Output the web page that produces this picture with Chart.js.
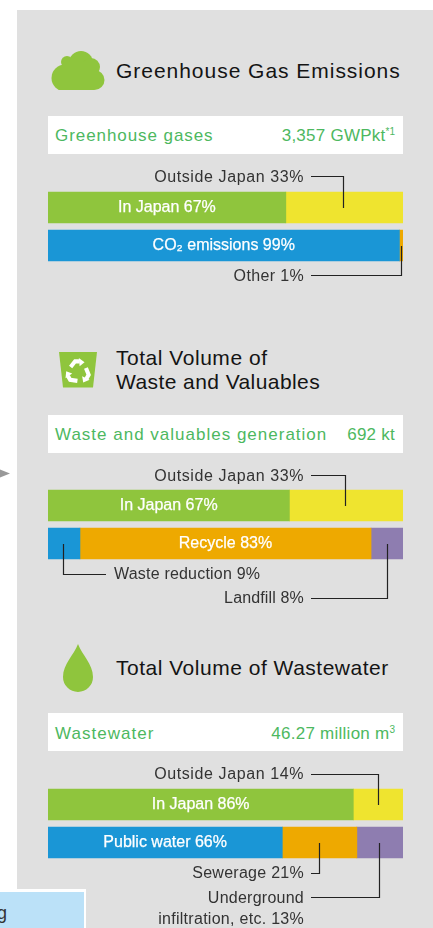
<!DOCTYPE html>
<html><head><meta charset="utf-8">
<script src="https://cdn.jsdelivr.net/npm/chart.js@4"></script>
<style>
html,body{margin:0;padding:0;background:#fff;overflow:hidden;width:433px;height:928px}
#page{position:relative;width:433px;height:928px;overflow:hidden;font-family:"Liberation Sans",Arial,sans-serif}
#panel{position:absolute;left:17px;top:10px;width:416px;height:918px;background:#e0e0e0}
.title{position:absolute;left:116px;font-size:21px;line-height:24px;color:#141414;white-space:nowrap}
.box{position:absolute;left:48px;width:355px;height:38px;background:#fff;color:#4db85f;font-size:17px;line-height:40px;box-sizing:border-box}
.box .l{position:absolute;left:7px}
.box .r{position:absolute;right:8px;letter-spacing:.25px}
.box sup{font-size:10px;line-height:0;vertical-align:baseline;position:relative;top:-6px;letter-spacing:0}
canvas{position:absolute;left:0}
.wrap{position:absolute;left:0;width:433px}
svg{position:absolute;left:0;top:0}
#note{position:absolute;left:0;top:889px;width:85.5px;height:39px;background:#bbe1f8;border-top:3px solid #fff;border-right:2.5px solid #fff;box-sizing:border-box;font-size:18px;color:#333}
#note span{position:absolute;left:-3px;top:11px}
</style></head>
<body><div id="page">
<div id="panel"></div>
<svg width="433" height="928">
 <path d="M0 469.5L10 473.5L0 477.5Z" fill="#999"/>
 <g fill="#8fc53d">
  <clipPath id="c"><rect x="40" y="40" width="80" height="50"/></clipPath>
  <g clip-path="url(#c)">
   <circle cx="65" cy="78" r="13.5"/><circle cx="67" cy="62" r="6"/><circle cx="81" cy="63" r="12"/>
   <circle cx="91" cy="67" r="9"/><circle cx="94.5" cy="80" r="10"/><rect x="62" y="62" width="32" height="28"/>
  </g>
  <path d="M59 352H97L93 387.5H63Z"/>
  <path d="M78 644C74 655 63 664 63 677A15 15 0 0 0 93 677C93 664 82 655 78 644Z"/>
 </g>
 <g transform="translate(78 372) scale(.82)" fill="none" stroke="#fff" stroke-width="5">
  <g><path d="M-9 -6L-3.5 -13L2 -13"/><path d="M1 -17L8 -12L2 -7Z" fill="#fff" stroke="none"/></g>
  <g transform="rotate(120)"><path d="M-9 -6L-3.5 -13L2 -13"/><path d="M1 -17L8 -12L2 -7Z" fill="#fff" stroke="none"/></g>
  <g transform="rotate(240)"><path d="M-9 -6L-3.5 -13L2 -13"/><path d="M1 -17L8 -12L2 -7Z" fill="#fff" stroke="none"/></g>
 </g>
</svg>
<div class="title" style="top:59px;letter-spacing:.97px">Greenhouse Gas Emissions</div>
<div class="title" style="top:346px;letter-spacing:.53px">Total Volume of</div>
<div class="title" style="top:370px;letter-spacing:.42px">Waste and Valuables</div>
<div class="title" style="top:656px;letter-spacing:.51px">Total Volume of Wastewater</div>
<div class="box" style="top:116px"><span class="l" style="letter-spacing:.93px">Greenhouse gases</span><span class="r">3,357 GWPkt<sup>*1</sup></span></div>
<div class="box" style="top:415px"><span class="l" style="letter-spacing:1px">Waste and valuables generation</span><span class="r">692 kt</span></div>
<div class="box" style="top:713px;line-height:41px"><span class="l" style="letter-spacing:1.04px">Wastewater</span><span class="r">46.27 million m<sup>3</sup></span></div>
<div class="wrap" style="top:160px;height:130px"><canvas id="c1"></canvas></div>
<div class="wrap" style="top:458px;height:154px"><canvas id="c2"></canvas></div>
<div class="wrap" style="top:755px;height:173px"><canvas id="c3"></canvas></div>
<div id="note"><span>g</span></div>
</div>
<script>
// ---- data: segment widths, printed labels as shown ----
const ghgCategories = ['Location', 'Gas type'];
const ghgLabels = ['In Japan 67%', 'Outside Japan 33%', 'CO₂ emissions 99%', 'Other 1%'];
const ghgRows   = [0, 0, 1, 1];
const ghgValues = [67, 33, 99, 1];

const wasteCategories = ['Location', 'Treatment'];
const wasteLabels = ['In Japan 67%', 'Outside Japan 33%', 'Waste reduction 9%', 'Recycle 83%', 'Landfill 8%'];
const wasteRows   = [0, 0, 1, 1, 1];
const wasteValues = [68, 32, 9, 82, 9];

const waterCategories = ['Location', 'Discharge'];
const waterLabels = ['In Japan 86%', 'Outside Japan 14%', 'Public water 66%', 'Sewerage 21%', 'infiltration, etc. 13%'];
const waterRows   = [0, 0, 1, 1, 1];
const waterValues = [86, 14, 66, 21, 13];

// ---- style ----
const GREEN='#8fc53d', YELLOW='#efe42f', BLUE='#1a96d6', ORANGE='#eea900', PURPLE='#8e7db0';
const ghgColors   = [GREEN, YELLOW, BLUE, ORANGE];
const wasteColors = [GREEN, YELLOW, BLUE, ORANGE, PURPLE];
const waterColors = [GREEN, YELLOW, BLUE, ORANGE, PURPLE];

// ---- annotations (layout only) ----
const ghgInside   = [0, 2];
const wasteInside = [0, 3];
const waterInside = [0, 2];
const ghgLeaders = [
 {seg:1, y:176, dx:-1, ls:.6, ty:1.5},
 {seg:3, y:275, ls:.35, ty:1.5}
];
const wasteLeaders = [
 {seg:1, y:475, dx:-1, ls:.6, ty:1.5},
 {seg:2, y:574, left:true, ls:.2, ty:.5},
 {seg:4, y:598, ls:.15, ty:1}
];
const waterLeaders = [
 {seg:1, y:774, ls:.6, ty:1},
 {seg:3, y:873, ls:.27, ty:1},
 {seg:4, y:897, ls:.28, ty:22.5, before:'Underground', bls:.25, bty:2}
];

const FONT='"Liberation Sans",Arial,sans-serif';
function makeChart(id, pageTop, areaTopPage, height, cats, labels, rows, values, colors, inside, leaders){
  const canvas=document.getElementById(id);
  const datasets=labels.map((n,i)=>({
    label:n,
    data:cats.map((c,r)=>r===rows[i]?values[i]:null),
    backgroundColor:colors[i],
    borderWidth:0,
    barThickness:31
  }));
  const areaTop=areaTopPage-pageTop;
  const notes={
    id:'notes',
    afterDatasetsDraw(chart){
      const ctx=chart.ctx;
      ctx.save();
      ctx.textBaseline='middle';
      ctx.fillStyle='#fff';
      ctx.strokeStyle='#fff';
      ctx.lineWidth=.25;
      ctx.font='16px '+FONT;
      ctx.textAlign='center';
      inside.forEach(i=>{
        const el=chart.getDatasetMeta(i).data[rows[i]];
        const cx=(el.x+el.base)/2;
        ctx.fillText(labels[i],cx,el.y);
        ctx.strokeText(labels[i],cx,el.y);
      });
      ctx.font='16px '+FONT;
      leaders.forEach(l=>{
        const el=chart.getDatasetMeta(l.seg).data[rows[l.seg]];
        const cx=(el.x+el.base)/2+(l.dx||0), ly=l.y-pageTop;
        ctx.strokeStyle='#222';ctx.lineWidth=1.2;
        const px=Math.floor(cx)+.5, py=Math.round(ly)+.5;
        ctx.beginPath();
        ctx.moveTo(l.left?106:311,py);ctx.lineTo(px,py);ctx.lineTo(px,Math.round(el.y));
        ctx.stroke();
        ctx.fillStyle='#333';
        ctx.textAlign=l.left?'left':'right';
        const tx=l.left?114:304;
        if(l.before){
          ctx.letterSpacing=l.bls+'px';
          ctx.fillText(l.before,tx,ly+l.bty);
        }
        ctx.letterSpacing=l.ls+'px';
        ctx.fillText(labels[l.seg],tx,ly+l.ty);
      });
      ctx.restore();
    }
  };
  return new Chart(canvas,{
    type:'bar',
    data:{labels:cats,datasets},
    options:{
      indexAxis:'y',responsive:false,animation:false,
      layout:{padding:{left:48,right:30,top:areaTop,bottom:height-areaTop-76}},
      plugins:{legend:{display:false},tooltip:{enabled:false},title:{display:false}},
      scales:{
        x:{stacked:true,min:0,max:100,display:false},
        y:{stacked:true,display:false}
      }
    },
    plugins:[notes]
  });
}
function size(id,h){const c=document.getElementById(id);c.width=433;c.height=h;c.style.width='433px';c.style.height=h+'px';}
size('c1',130);size('c2',154);size('c3',173);
makeChart('c1',160,188.5,130,ghgCategories,ghgLabels,ghgRows,ghgValues,ghgColors,ghgInside,ghgLeaders);
makeChart('c2',458,486.5,154,wasteCategories,wasteLabels,wasteRows,wasteValues,wasteColors,wasteInside,wasteLeaders);
makeChart('c3',755,785.5,173,waterCategories,waterLabels,waterRows,waterValues,waterColors,waterInside,waterLeaders);
</script>
</body></html>
